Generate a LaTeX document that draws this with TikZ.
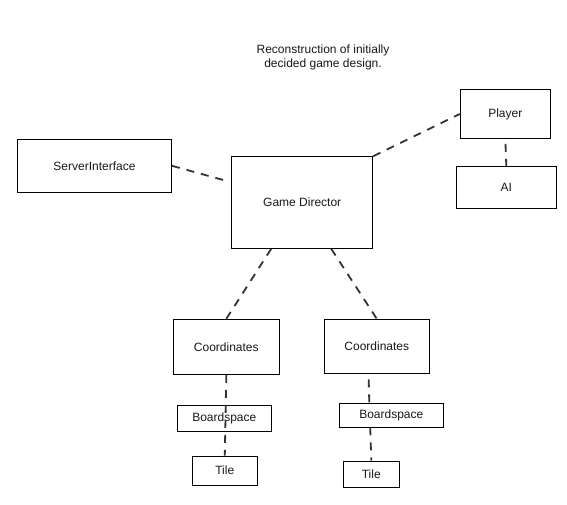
\documentclass[tikz,border=0pt]{standalone}
\usepackage{fontspec}
\setmainfont{Liberation Sans}
\usetikzlibrary{calc}
\begin{document}
\begin{tikzpicture}[x=1pt,y=-1pt,
  box/.style={draw=black,line width=1pt,fill=white,inner sep=0pt,font=\fontsize{12}{14}\selectfont,text=black!90},
  link/.style={draw=black!80,line width=1.8pt,dash pattern=on 8pt off 7pt}]
\useasboundingbox[fill=white] (0,0) rectangle (567,505);
\node[align=center,font=\fontsize{12}{14}\selectfont,text=black!90] (title) at (323,57.5) {Reconstruction of initially\\decided game design.};
% right-side connectors drawn first (hidden by the Boardspace box)
\coordinate (crs) at (368.7,379.3);
\coordinate (brn) at (369.3,403.3);
\coordinate (brs) at (370.2,427.3);
\node[box,minimum width=154,minimum height=53] (si) at (94.5,165.8) {ServerInterface};
\node[box,minimum width=141,minimum height=91.6] (gd) at (302.2,202.5) {Game Director};
\node[box,minimum width=90,minimum height=48.6] (player) at (505.3,114) {Player};
\node[box,minimum width=100,minimum height=42] (ai) at (506.3,187.3) {AI};
\node[box,minimum width=106,minimum height=55] (coordL) at (226.3,346.8) {Coordinates};
\node[box,minimum width=105,minimum height=54] (coordR) at (376.8,346.3) {Coordinates};
\node[box,minimum width=94,minimum height=26] (bsL) at (224.3,418.3) {Boardspace};
\node[box,minimum width=104,minimum height=24] (bsR) at (391.3,415.3) {Boardspace};
\node[box,minimum width=65,minimum height=29.3] (tileL) at (224.8,470.7) {Tile};
\node[box,minimum width=56,minimum height=26.3] (tileR) at (371.3,474.2) {Tile};
% connectors
\draw[link,shorten >=7pt] (si.east) -- ($(gd.north west)+(0,26)$);
\draw[link] (gd.north east) -- (player.west);
\draw[link,shorten <=5pt] (player.south) -- (ai.north);
\draw[link] ($(gd.south west)+(40,0)$) -- (coordL.north);
\draw[link] ($(gd.south east)+(-42,0)$) -- (coordR.north);
\draw[link] (coordL.south) -- (tileL.north);
\draw[link] (crs) -- (brn);
\draw[link] (brs) -- (tileR.north);
\end{tikzpicture}
\end{document}
